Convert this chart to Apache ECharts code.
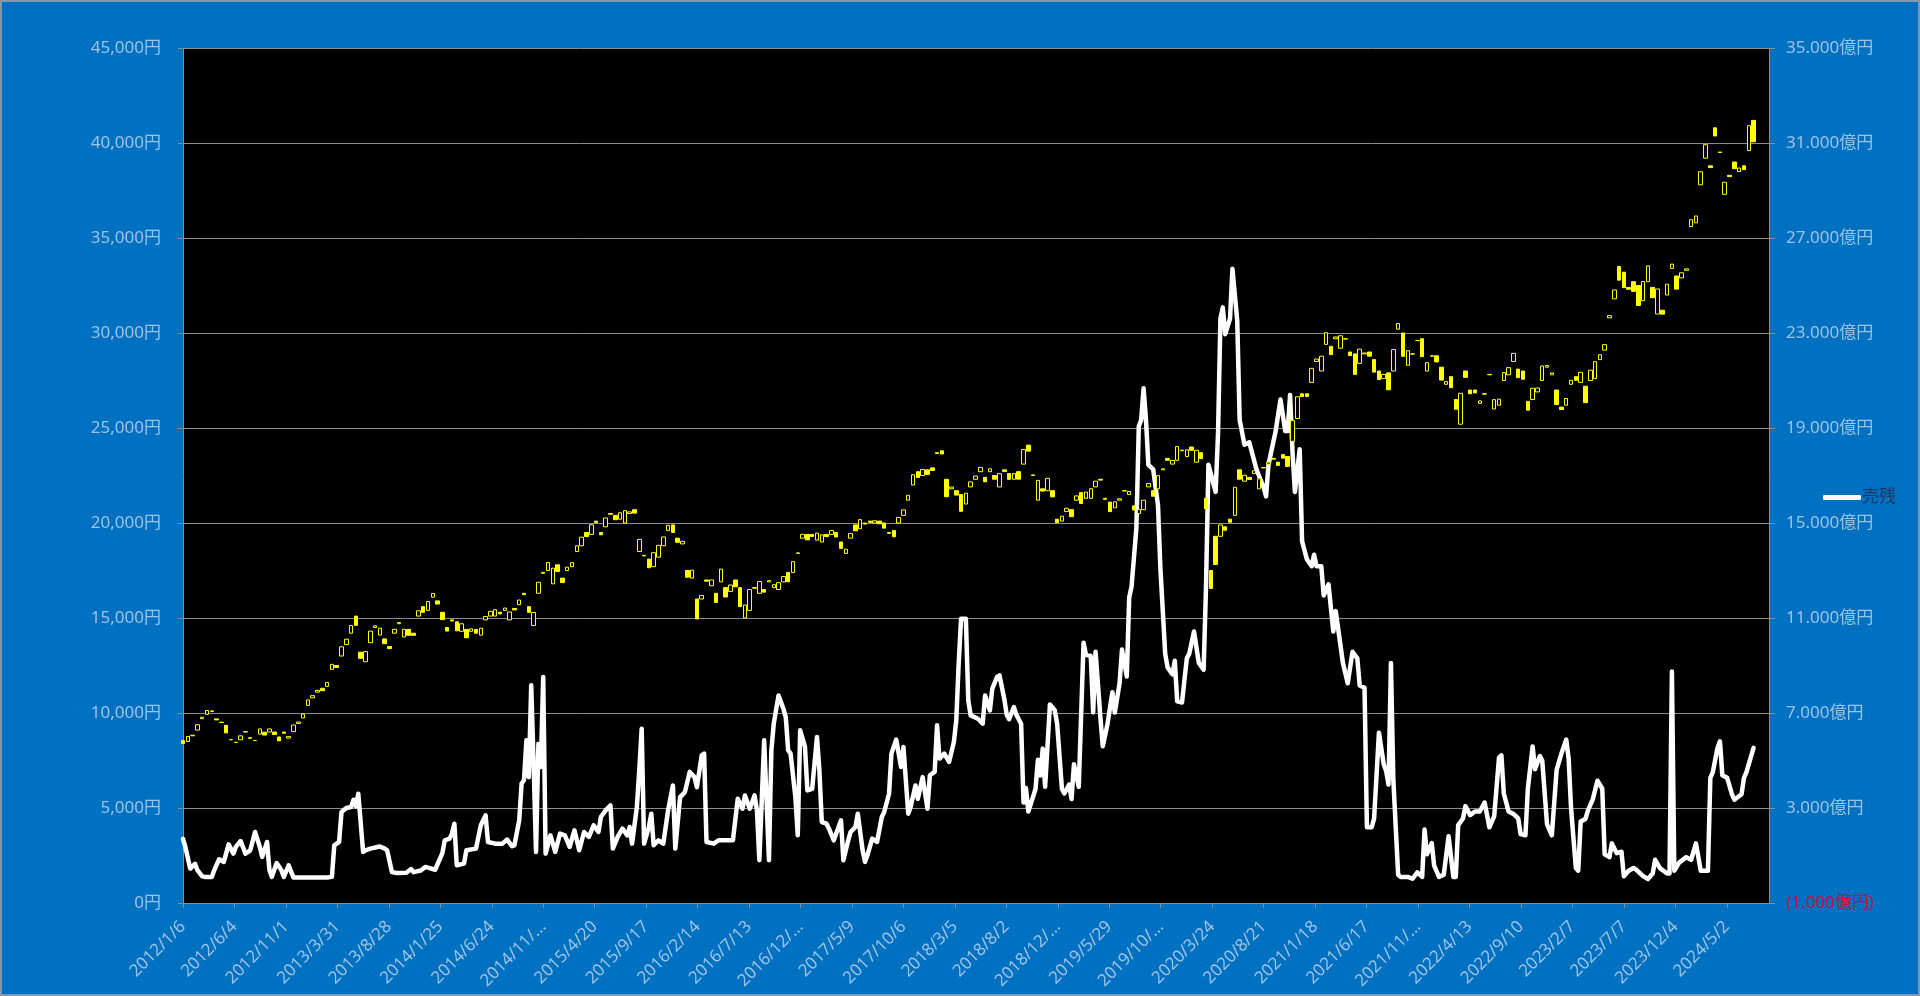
<!DOCTYPE html>
<html>
<head>
<meta charset="utf-8">
<script src="https://cdn.jsdelivr.net/npm/echarts@6/dist/echarts.min.js"></script>
<style>
html,body{margin:0;padding:0;background:#0070C0;}
#chart{width:1920px;height:996px;}
</style>
</head>
<body>
<div id="chart"></div>
<script>
// ---- axis / category settings ----
const startDate = [2012, 1, 6];          // first weekly bar (Friday)
const priceStepWeeks = 2;                // one price bar every 2 weeks
const dateLabelStepDays = 150;           // date tick every 150 days
const xMaxDays = 4623;
const leftTicks = {min: 0, max: 45000, interval: 5000};
const rightRange = {min: -1000, max: 35000};
const shortName = '売残';

// ---- price (yen): weekly open / close, sampled every 2 weeks ----
const priceOpen = [
  8550,8500,8800,9100,9700,9930,10110,9690,9500,9350,8600,8450,8590,9000,8700,8550,8890,8990,9000,9000,8740,9000,8680,9020,9450,9740,
  10400,10800,11100,11300,11400,12300,12500,13000,13600,14200,15100,13200,12700,13700,14500,14100,13900,13500,14200,14700,14000,14400,14200,15100,15600,15400,
  16100,15900,15300,14500,14900,14800,14300,14400,14300,14400,14100,14900,15100,15100,15300,15400,14900,15500,15700,16300,15600,14600,16300,17400,17500,16800,
  17800,17100,17500,17700,18500,18800,19500,19400,20100,19500,19800,20500,20400,20200,20000,20500,20700,18500,18300,18100,17700,18200,18800,19600,19900,19200,
  18900,17500,17100,16000,16000,17000,16700,16300,16900,16600,16400,17000,16600,15000,15400,16600,16300,16500,16900,16600,16500,16900,17400,17400,18400,19200,
  19400,19400,19100,19000,19400,19400,19500,19000,18400,19200,19900,19700,20000,20100,20000,20100,20000,19500,19600,20000,20400,21200,22000,22700,22500,22800,
  22900,23700,23800,22300,21800,21700,21500,21000,21900,22300,22700,22400,22700,22500,21900,22800,22600,22300,22700,23100,24100,22500,21200,21800,21700,21700,
  20200,20100,20600,20700,21200,21600,21300,21300,21900,22300,21300,21100,20800,21200,21700,21500,20900,20500,20700,21900,21700,21800,22800,23400,23100,23300,
  23800,23500,24000,23200,23700,21300,17500,19300,19300,19800,20200,20400,22800,22200,22400,22600,21800,22900,23100,23400,23200,23600,23500,24300,25500,26800,26800,
  27400,28500,28000,29400,29300,29700,29200,29700,29000,28900,28400,28900,29000,28600,28000,27600,27900,28000,30200,30000,28300,28900,29600,29700,28000,28800,
  28800,28200,27300,27700,26500,25200,28000,27000,27000,26300,26800,27800,26000,26200,27500,27800,28500,28100,28000,26400,26500,26900,27500,28200,27800,27000,
  26100,26200,27300,27700,27400,27200,27500,27600,28600,29100,30800,31800,33500,33200,32400,32700,32500,31700,32700,32400,31000,31200,32000,33400,33000,32900,
  33300,35600,35800,37800,39200,38800,40800,39500,37300,38300,39000,38500,38800,39600,41190
];
const priceClose = [
  8390,8766,8831,9384,9777,10130,10084,9638,9521,8953,8593,8460,8798,9021,8670,8555,9163,8840,9160,8870,8534,8933,8758,9366,9527,9940,
  10688,10913,11191,11173,11606,12560,12398,13485,13884,14607,14612,12877,13230,14309,14589,14466,13650,13389,14404,14760,14404,14088,14086,15382,15299,15870,
  16291,15734,14915,14313,14841,14327,14696,13960,14429,14199,14462,15077,15349,15437,15215,15523,15318,15425,15948,16229,15300,15291,16880,17357,17920,17621,
  17450,16864,17674,17913,18798,19254,19286,19908,20020,19380,20264,20461,20174,20539,20650,20585,20520,19136,18264,17645,18438,18825,19265,19879,19504,18986,
  19034,17147,17518,14953,16188,16938,17002,15821,17572,16106,16736,16642,15600,15682,16497,16569,16920,16360,16965,16754,16860,17184,16905,17968,18426,19401,
  19114,19287,19467,19378,19284,19605,19263,18665,18620,19445,19591,20177,19943,20033,20118,19960,19730,19453,19275,20296,20691,21457,22539,22397,22819,22553,
  22765,23653,23631,21383,21892,21469,20618,21568,22163,22473,22930,22171,22852,22305,22597,22713,22298,22601,22307,23870,23784,22532,22243,21680,22351,21375,
  20015,20360,20774,20333,21426,21026,21627,21807,22200,22258,21250,20601,21117,21276,21686,21658,20685,20711,21200,22079,21410,22493,22851,23303,23294,24023,
  23837,23850,23827,23827,23387,20750,16553,17820,19897,19619,20037,21878,22305,22512,22290,22751,22329,22920,23205,23360,23030,23411,22977,25385,26644,26652,26656,
  28139,28631,28779,30017,28864,29792,29854,29683,28813,27824,29149,28949,28781,27940,27548,27820,27013,29128,30500,28771,29069,28892,29610,28752,28437,28782,
  28479,27522,27440,27122,25985,26827,27666,26800,26848,26428,26782,27824,26491,26517,27915,28176,28930,27650,27567,25937,27090,27105,28264,28283,27901,26235,
  25973,26553,27509,27513,27927,26334,28041,28493,28856,29388,30916,32265,32781,32388,32304,32192,31450,32710,33533,31858,32315,30991,32568,33625,32307,33169,
  33377,35963,36158,38487,39910,38707,40369,39523,37934,38229,38646,38683,38596,40912,40063
];

// ---- 売残 (億円): week index from start, value ----
const shortWeeks = [
  0,1,3,5,6,8,9,12,13,15, 17,19,21,22,24,26,28,30,32,33, 35,36,37,39,41,42,44,46,60,62,
  63,65,66,68,70,71,72,73,75,76, 78,81,82,84,85,87,89,93,95,96, 99,101,102,105,108,109,111,112,113,114,
  117,118,122,124,126,127,130,133,135,137, 138,140,141,142,143,144,145,146,147,148, 149,150,151,153,155,157,159,161,163,165,
  167,169,171,173,174,176,178,179,181,183, 185,186,187,189,190,191,192,194,195,196, 198,200,202,204,205,207,209,211,213,214,
  216,217,218,221,223,226,229,231,233,234, 236,238,239,240,242,244,245,246,248,250, 251,252,253,255,256,257,259,260,262,264,
  265,266,268,269,271,273,274,275,277,278, 280,281,283,284,285,287,289,291,292,294, 295,297,299,300,302,303,305,306,308,310,
  311,313,314,315,317,319,321,322,323,324, 326,327,328,331,333,334,336,337,339,340, 342,343,344,346,347,349,350,351,352,355,
  356,357,358,359,361,363,364,366,367,369, 370,371,373,375,376,378,379,380,382,383, 385,387,388,390,391,393,394,395,397,398,
  399,400,401,402,404,406,407,409,410,412, 413,414,416,418,419,421,423,425,426,427, 428,430,431,432,433,434,436,437,439,440,
  442,444,446,447,448,450,451,452,455,457, 459,460,461,462,463,465,466,468,470,471, 472,474,475,477,479,480,483,485,487,489,
  490,492,493,495,496,498,500,501,502,503, 504,506,507,510,512,514,516,517,518,520, 521,523,525,527,529,530,531,533,534,536,
  538,540,542,544,546,548,549,550,552,554, 556,557,559,560,562,563,565,566,568,570, 571,572,574,576,577,578,580,581,582,584,
  585,587,589,591,592,594,595,597,599,600, 602,604,605,608,610,612,613,615,618,619, 620,621,623,626,628,630,632,635,636,637,
  639,640,641,643,645,646,649,650,651,654
];
const shortValues = [
  1700,1350,450,650,380,120,100,100,380,840, 730,1470,1080,1360,1610,1080,1220,1990,1360,940, 1570,380,100,680,380,100,590,70,70,100,
  1430,1570,2830,3000,3040,3350,3070,3600,1150,1220, 1290,1360,1380,1290,1220,300,260,270,430,300, 370,520,490,400,1100,1640,1710,1920,2340,590,
  660,1220,1290,2270,2690,1570,1500,1500,1670,1390, 1430,2480,4030,4170,5850,4300,8170,4870,1150,5700, 4730,8520,1080,1850,1150,1920,1850,1360,2060,1220,
  1990,1780,2270,1990,2620,2900,3110,1290,1780,2130, 1850,2200,1500,3040,4590,6340,1500,2200,2760,1430, 1640,1500,2900,3950,1290,3460,3670,4520,4300,3880,
  5220,5290,1570,1500,1640,1640,1640,3390,2970,3530, 2970,3530,2900,800,5850,800,5430,6550,7740,7180, 6830,5430,5290,3460,1850,6270,5570,3740,3810,5990,
  4590,2410,2340,2130,1640,2200,2480,800,1640,1990, 2200,2760,1220,730,1010,1710,1570,2620,2830,3600, 5290,5880,4730,5570,2760,3040,3950,3390,4300,2970,
  4380,4520,6480,5080,5290,4940,5780,6690,9080,10970, 10970,7530,6900,6760,6550,7740,7110,8030,8520,8580, 7590,6930,6740,7250,6930,6550,3230,3840,2850,3800,
  5030,4370,5500,3890,7360,7120,6550,3800,3610,3990, 3380,4840,3890,9960,9450,9400,7020,9580,6830,5600, 6550,7870,7020,8250,9670,8540,11860,12330,14790,19060,
  19340,20670,19340,17450,17260,15740,13090,9490,8920,8630, 9200,7490,7440,9300,9490,10430,9110,8820,12330,17450, 17070,16310,18780,23610,24080,22950,23610,25700,23520,19340,
  18300,18400,17640,17260,17000,16500,16120,17450,18870,20200, 18870,18870,20390,18020,16310,18110,14230,13470,13180,13660, 13180,13180,11950,12420,10430,11290,9110,8250,9580,9300,
  8160,8060,2190,2190,2560,6170,4840,4560,3990,9110, 4180,190,100,100,20,290,100,2090,1050,1520, 570,100,190,1810,100,100,2280,2560,3080,2700,
  2850,2850,3230,2190,2660,5120,5220,3610,2850,2750, 2560,1900,1850,3800,5590,4630,5190,5000,2310,1850, 3230,4610,5300,5880,5070,3000,470,360,2430,2540,
  2890,3350,4150,3810,1050,930,1510,1100,1160,130, 360,470,420,130,10,240,820,470,240,240, 8750,360,700,930,820,1510,360,360,4270,4500,
  5530,5810,4380,4270,3580,3350,3580,4270,4500,5530
];

// ---- build series data (x = days since start date) ----
const candleData = priceOpen.map((o, i) => {
  const c = priceClose[i];
  return [i * priceStepWeeks * 7, o, c, Math.min(o, c), Math.max(o, c)];
});
const lineData = shortWeeks.map((w, i) => [w * 7, shortValues[i]]);

const t0 = Date.UTC(startDate[0], startDate[1] - 1, startDate[2]);
function dateLabel(v) {
  if (v % dateLabelStepDays !== 0) return '';
  const d = new Date(t0 + v * 86400000);
  let s = d.getUTCFullYear() + '/' + (d.getUTCMonth() + 1) + '/' + d.getUTCDate();
  if (s.length > 9) s = s.slice(0, 8) + '…';
  return s;
}
function groupDigits(n, sep) {
  return String(Math.abs(Math.round(n))).replace(/\B(?=(\d{3})+(?!\d))/g, sep);
}

const FONT = "'Noto Sans', 'Noto Sans CJK JP', sans-serif";
const LABEL = '#9DC3E6';
const GRID = '#8C8C8C';

const chart = echarts.init(document.getElementById('chart'));
chart.setOption({
  animation: false,
  backgroundColor: '#0070C0',
  textStyle: {fontFamily: FONT},
  graphic: [{
    type: 'rect', silent: true, z: 100,
    shape: {x: 1, y: 1, width: 1918, height: 994},
    style: {fill: 'none', stroke: '#8497B0', lineWidth: 2}
  }],
  grid: {
    left: 183, right: 151, top: 48, bottom: 93,
    show: true, backgroundColor: '#000000', borderWidth: 0
  },
  legend: {
    data: [{name: shortName, icon: 'roundRect'}],
    left: 1818, top: 484,
    itemWidth: 38, itemHeight: 5, itemGap: 4,
    textStyle: {color: '#1F3864', fontSize: 17, fontFamily: FONT, padding: [0, 0, 0, -4]}
  },
  xAxis: {
    type: 'value',
    min: 0, max: xMaxDays, interval: dateLabelStepDays,
    axisLine: {onZero: false, lineStyle: {color: GRID, width: 1}},
    axisTick: {show: true, length: 5, lineStyle: {color: GRID}},
    splitLine: {show: false},
    axisLabel: {
      rotate: 45, margin: 21, color: LABEL, fontSize: 17, fontFamily: FONT,
      showMaxLabel: false, formatter: dateLabel
    }
  },
  yAxis: [{
    type: 'value', position: 'left',
    min: leftTicks.min, max: leftTicks.max, interval: leftTicks.interval,
    axisLine: {show: true, lineStyle: {color: GRID}},
    axisTick: {show: true, length: 5, lineStyle: {color: GRID}},
    splitLine: {show: true, lineStyle: {color: GRID, width: 1}},
    axisLabel: {
      margin: 22, color: LABEL, fontSize: 17, fontFamily: FONT,
      formatter: v => groupDigits(v, ',') + '円'
    }
  }, {
    type: 'value', position: 'right',
    min: rightRange.min, max: rightRange.max, alignTicks: true,
    axisLine: {show: true, lineStyle: {color: GRID}},
    axisTick: {show: true, length: 6, lineStyle: {color: GRID}},
    splitLine: {show: false},
    axisLabel: {
      margin: 17, color: LABEL, fontSize: 17, fontFamily: FONT,
      formatter: v => v < 0 ? '{neg|(' + groupDigits(v, '.') + '億円)}' : groupDigits(v, '.') + '億円',
      rich: {neg: {color: '#C0143C', fontSize: 17, fontFamily: FONT}}
    }
  }],
  series: [{
    name: shortName,
    type: 'line',
    yAxisIndex: 1,
    data: lineData,
    showSymbol: false,
    symbol: 'none',
    lineStyle: {color: '#FFFFFF', width: 4.5, join: 'round', cap: 'round'},
    itemStyle: {color: '#FFFFFF'},
    z: 2
  }, {
    name: '株価',
    type: 'candlestick',
    yAxisIndex: 0,
    data: candleData,
    encode: {x: 0, y: [1, 2, 3, 4]},
    barWidth: 4,
    itemStyle: {
      color: '#000000', borderColor: '#FFFF00',
      color0: '#FFFF00', borderColor0: '#FFFF00',
      borderWidth: 1
    },
    z: 3
  }]
});
</script>
</body>
</html>
